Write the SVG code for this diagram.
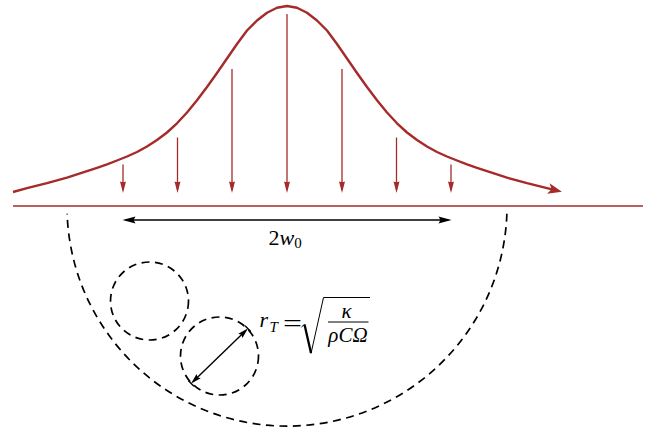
<svg xmlns="http://www.w3.org/2000/svg" width="648" height="430" viewBox="0 0 648 430">
  <style>
    .red { stroke: #a52a2a; fill: none; }
    .dash { stroke: #000; fill: none; stroke-width: 1.7; stroke-dasharray: 8 5.5; }
    .blk { stroke: #000; fill: none; stroke-width: 1.4; }
    .tx { font-family: "Liberation Serif", "Times New Roman", serif; fill: #000; }
    .it { font-style: italic; }
  </style>
  <defs>
    <marker id="beamHead" viewBox="-12 -7 17 14" markerWidth="17" markerHeight="14" refX="0" refY="0" orient="auto" markerUnits="userSpaceOnUse">
      <path d="M4,0 L-10,-5.5 L-6.5,0 L-10,5.5 Z" fill="#a52a2a"/>
    </marker>
    <marker id="redHead" viewBox="-10 -5 14 10" markerWidth="14" markerHeight="10" refX="0" refY="0" orient="auto" markerUnits="userSpaceOnUse">
      <path d="M3,0 L-8.5,-3 Q-7.3,0 -8.5,3 Z" fill="#a52a2a"/>
    </marker>
    <marker id="blkHead" viewBox="-11 -5 15 10" markerWidth="15" markerHeight="10" refX="0" refY="0" orient="auto-start-reverse" markerUnits="userSpaceOnUse">
      <path d="M3,0 L-10,-3.5 L-8,0 L-10,3.5 Z" fill="#000"/>
    </marker>
    <marker id="smallHead" viewBox="-10 -4 13 8" markerWidth="13" markerHeight="8" refX="0" refY="0" orient="auto-start-reverse" markerUnits="userSpaceOnUse">
      <path d="M2.5,0 L-8,-3 L-6.5,0 L-8,3 Z" fill="#000"/>
    </marker>
  </defs>

  <g id="surface">
    <line class="red" x1="13" y1="206" x2="643" y2="206" stroke-width="1.3"/>
  </g>

  <g id="beam">
    <path class="red" stroke-width="2.4" stroke-linejoin="round" marker-end="url(#beamHead)"
      d="M13,192 L27,188.2 L47,183.2 L67,177.6 L87,171.2 L97,167.8 L107,164.3 L117,160.5 L127,156.5 L137,152 L147,146.5 L157,140 L167,132.5 L177,123.3 L187,112.5 L197,100.3 L207,87 L217,73 L227,58.5 L237,44 L247,30.5 L257,20.5 L267,12.8 L277,7.8 L287,6 L297,7.8 L307,12.8 L317,20.5 L327,30.5 L337,44 L347,58.5 L357,73 L367,87 L377,100.3 L387,112.5 L397,123.3 L407,132.5 L417,140 L427,146.5 L437,152 L447,156.5 L457,160.5 L467,164.3 L477,167.8 L487,171.2 L507,177.6 L527,183.2 L547,188.2 L558,190.8"/>
  </g>

  <g id="connectors">
    <g class="red" stroke-width="1.3" marker-end="url(#redHead)">
      <line x1="123" y1="164.5" x2="123" y2="190"/>
      <line x1="177.5" y1="137.5" x2="177.5" y2="190"/>
      <line x1="232" y1="69" x2="232" y2="190"/>
      <line x1="287" y1="14" x2="287" y2="190"/>
      <line x1="342" y1="69" x2="342" y2="190"/>
      <line x1="396.5" y1="137.5" x2="396.5" y2="190"/>
      <line x1="451" y1="164.5" x2="451" y2="190"/>
    </g>
    <line class="blk" x1="125.5" y1="220" x2="448.5" y2="220" marker-start="url(#blkHead)" marker-end="url(#blkHead)"/>
    <g id="radius-arrow">
      <line class="blk" stroke-width="1.3" x1="192.9" y1="381.7" x2="246.1" y2="330.3" marker-start="url(#smallHead)" marker-end="url(#smallHead)"/>
      <line class="blk" stroke-width="1.3" x1="250.7" y1="331.5" x2="245.1" y2="325.7"/>
      <line class="blk" stroke-width="1.3" x1="193.9" y1="386.3" x2="188.3" y2="380.5"/>
    </g>
  </g>

  <g id="heat-zone">
    <path class="dash" d="M506.87,213.68 A220,220 0 0 1 67.13,213.68"/>
  </g>
  <g id="cell-1">
    <circle class="dash" cx="149.5" cy="301" r="39"/>
  </g>
  <g id="cell-2">
    <circle class="dash" cx="219.5" cy="356" r="39"/>
  </g>

  <g id="label-width">
    <text class="tx" x="268.5" y="245" font-size="22">2<tspan class="it">w</tspan><tspan font-size="15" dy="3">0</tspan></text>
  </g>

  <g id="label-formula">
    <text class="tx it" x="259.5" y="327" font-size="22">r</text>
    <text class="tx it" x="269.5" y="332" font-size="15">T</text>
    <text class="tx" x="283" y="331.5" font-size="26" textLength="19" lengthAdjust="spacingAndGlyphs">=</text>
    <path d="M301.5,327 L304.5,324.5" stroke="#000" stroke-width="1" fill="none"/>
    <path d="M304.5,324.5 L311,353" stroke="#000" stroke-width="2.3" fill="none"/>
    <path d="M311,353.5 L323.5,297.5 H370" stroke="#000" stroke-width="1" fill="none"/>
    <text class="tx it" x="346.5" y="317.5" font-size="21" text-anchor="middle">κ</text>
    <line x1="328" y1="322" x2="368.5" y2="322" stroke="#000" stroke-width="1"/>
    <text class="tx it" x="348" y="341.5" font-size="21" text-anchor="middle">ρCΩ</text>
  </g>
</svg>
